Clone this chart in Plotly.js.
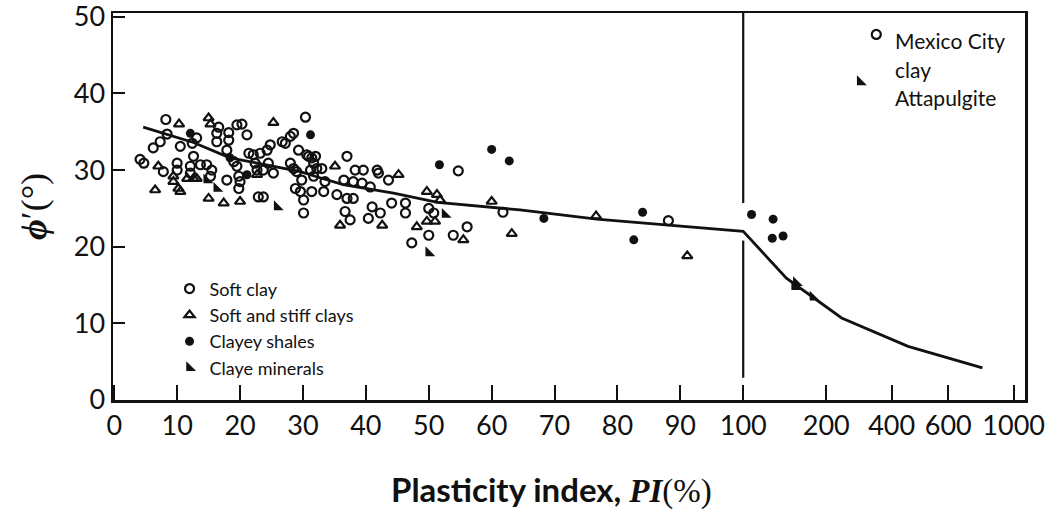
<!DOCTYPE html>
<html>
<head>
<meta charset="utf-8">
<script src="https://cdn.plot.ly/plotly-3.0.1.min.js"></script>
<style>html,body{margin:0;padding:0;background:#fff;} #chart{width:1063px;height:510px;}</style>
</head>
<body>
<div id="chart"></div>
<script>
// ---------- data (PI in %, phi' in degrees) ----------
const softClayPI  = [8.2,16.6,19.5,20.3,30.4,8.4,7.3,6.2,10.5,13.1,12.4,16.3,16.3,18.2,18.2,17.9,21.1,24.8,26.7,27.2,28.5,28.0,21.4,22.1,23.2,24.3,29.3,30.6,31.4,31.7,4.1,4.7,7.8,10.0,10.0,12.1,12.1,12.6,13.7,14.7,15.5,15.3,19.0,19.5,19.8,17.9,22.4,22.7,24.5,23.7,25.3,28.0,28.5,29.0,29.8,28.8,29.6,30.1,30.1,20.0,19.8,22.9,23.7,30.9,32.0,31.2,32.2,33.0,37.0,38.3,39.6,41.8,43.6,42.0,31.7,33.5,36.5,38.0,39.4,40.7,31.4,33.3,35.4,37.0,38.0,41.0,42.3,44.1,46.3,46.3,36.7,37.5,40.4,50.0,50.8,50.0,47.3,53.9,56.1,54.7,61.8,88.1];
const softClayPhi = [36.6,35.6,35.9,36.0,36.9,34.7,33.7,32.9,33.1,34.2,33.5,34.8,33.7,34.9,33.9,32.6,34.6,33.3,33.7,33.5,34.8,34.4,32.2,32.0,32.2,32.6,32.6,32.0,31.6,30.9,31.4,30.9,29.8,30.9,30.0,30.5,29.6,31.8,30.7,30.7,30.0,29.2,31.1,30.5,29.2,28.7,30.9,30.0,30.9,30.0,29.6,30.9,30.2,29.8,28.7,27.6,27.2,26.1,24.4,28.5,27.6,26.5,26.5,31.8,31.8,30.0,30.2,30.2,31.8,30.0,30.0,30.0,28.7,29.6,29.2,28.5,28.7,28.5,28.3,27.8,27.2,27.2,26.8,26.3,26.3,25.2,24.4,25.7,25.7,24.4,24.6,23.5,23.7,25.0,24.4,21.5,20.5,21.5,22.6,29.9,24.5,23.4];

const stiffClayPI  = [10.3,15.0,15.3,25.3,7.0,6.5,10.2,10.5,9.4,9.4,11.6,12.6,13.1,15.0,17.4,20.0,22.7,35.1,45.2,35.9,42.6,49.7,51.3,51.8,48.1,49.7,51.0,55.5,60.0,63.2,76.6,91.1];
const stiffClayPhi = [36.0,36.8,36.0,36.2,30.5,27.4,27.6,27.2,28.5,29.2,28.9,28.9,28.9,26.3,25.7,25.9,29.4,30.5,29.4,22.8,22.8,27.2,26.8,26.1,22.6,23.3,23.3,20.9,25.9,21.7,24.0,18.8];

const shalePI  = [31.2,12.1,18.4,21.1,51.7,60.0,62.8,68.3,84.0,82.6,110,136,135,148];
const shalePhi = [34.6,34.8,31.6,29.4,30.7,32.7,31.2,23.7,24.5,20.9,24.2,23.6,21.1,21.4];

const mineralPI  = [14.7,16.3,25.9,52.6,50.0,162,164,184];
const mineralPhi = [28.7,27.6,25.2,24.2,19.2,14.8,15.3,13.4];

const mexicoPI = [353], mexicoPhi = [47.7];
const attapPI  = [304], attapPhi  = [41.5];

const trendPI  = [4.6,12.6,18.4,22.7,29.6,32.3,36.4,44.4,51.4,64.5,76.7,100,152,247,458,809];
const trendPhi = [35.6,33.6,31.6,30.9,29.8,29.1,28.1,27.0,25.8,24.8,23.6,22.0,15.9,10.7,7.0,4.2];

const dividerPI = [100,100,null,100,100];
const dividerPhi = [50.5,25.7,null,20.8,2.9];

const tickPI = [0,10,20,30,40,50,60,70,80,90,100,200,400,600,1000];
const yTicks = [0,10,20,30,40,50];
const legendNames = ["Soft clay","Soft and stiff clays","Clayey shales","Claye minerals"];
const xTitle = '<b>Plasticity index, </b><span style="font-family:\'Liberation Serif\',serif"><b><i>PI</i></b>(%)</span>';
const yTitle = '<b><i>ϕ</i></b>′(°)';
const notes = ['Mexico City','clay','Attapulgite'];

// ---------- axis scale: linear up to 100, stretched segments above ----------
const scalePI  = [100,200,400,600,1000];
const scalePos = [100,113.2,123.6,132.6,143];
function pos(v){
  if (v === null) return null;
  if (v <= 100) return v;
  for (let i=1;i<scalePI.length;i++){
    if (v <= scalePI[i]){
      const t=(v-scalePI[i-1])/(scalePI[i]-scalePI[i-1]);
      return scalePos[i-1]+t*(scalePos[i]-scalePos[i-1]);
    }
  }
  return scalePos[scalePos.length-1];
}
const P = a => a.map(pos);

const ink = '#111';
const openMk = (sym)=>({symbol:sym, size:9, color:ink, line:{color:ink,width:2.2}});
const mineralMk = {symbol:'triangle-sw', size:11, color:ink};
const traces = [
  {x:P(softClayPI), y:softClayPhi, mode:'markers', type:'scatter', name:legendNames[0], marker:openMk('circle-open')},
  {x:P(stiffClayPI), y:stiffClayPhi, mode:'markers', type:'scatter', name:legendNames[1], marker:openMk('triangle-up-open')},
  {x:P(shalePI), y:shalePhi, mode:'markers', type:'scatter', name:legendNames[2], marker:{symbol:'circle', size:9, color:ink}},
  {x:P(mineralPI), y:mineralPhi, mode:'markers', type:'scatter', name:legendNames[3], marker:mineralMk},
  {x:P(mexicoPI), y:mexicoPhi, mode:'markers', type:'scatter', showlegend:false, marker:openMk('circle-open')},
  {x:P(attapPI), y:attapPhi, mode:'markers', type:'scatter', showlegend:false, marker:mineralMk},
  {x:P(trendPI), y:trendPhi, mode:'lines', type:'scatter', showlegend:false, line:{color:ink,width:2.8}},
  {x:P(dividerPI), y:dividerPhi, mode:'lines', type:'scatter', showlegend:false, line:{color:ink,width:2.2}, connectgaps:false}
];

const sans = 'Lato, "Open Sans", sans-serif';
const serif = '"Liberation Serif","DejaVu Serif",serif';
const noteFont = {family:sans, size:21, color:ink};
const layout = {
  width:1063, height:510,
  margin:{l:113, r:38, t:13, b:110},
  paper_bgcolor:'#fff', plot_bgcolor:'#fff',
  showlegend:true,
  legend:{x:0.062, y:0.335, xanchor:'left', yanchor:'top', bgcolor:'rgba(0,0,0,0)',
          font:{family:sans, size:18, color:ink}, itemwidth:30, tracegroupgap:0},
  xaxis:{range:[-0.2,144.8], tickvals:P(tickPI), ticktext:tickPI.map(String), tickangle:0,
         ticks:'inside', ticklen:15, tickwidth:2, tickcolor:ink, ticklabeloverflow:'allow',
         showline:true, linewidth:2.5, linecolor:ink, mirror:true,
         showgrid:false, zeroline:false,
         tickfont:{family:sans, size:27, color:ink}},
  yaxis:{range:[0,50.5], tickvals:yTicks, ticks:'inside', ticklen:12, tickwidth:2, tickcolor:ink,
         ticklabeloverflow:'allow',
         showline:true, linewidth:2.5, linecolor:ink, mirror:true,
         showgrid:false, zeroline:false,
         tickfont:{family:sans, size:27, color:ink},
         title:{text:yTitle, font:{family:serif, size:36, color:ink}, standoff:16}},
  annotations:[
    {xref:'paper', yref:'paper', x:0.481, y:-0.232, xanchor:'center', yanchor:'middle', showarrow:false,
     text:xTitle, font:{family:sans, size:33, color:ink}},
    {xref:'paper', yref:'paper', x:0.855, y:0.928, xanchor:'left', yanchor:'middle', showarrow:false,
     text:notes[0], font:noteFont},
    {xref:'paper', yref:'paper', x:0.855, y:0.853, xanchor:'left', yanchor:'middle', showarrow:false,
     text:notes[1], font:noteFont},
    {xref:'paper', yref:'paper', x:0.855, y:0.781, xanchor:'left', yanchor:'middle', showarrow:false,
     text:notes[2], font:noteFont}
  ]
};
Plotly.newPlot('chart', traces, layout, {displayModeBar:false, staticPlot:true});
</script>
</body>
</html>
